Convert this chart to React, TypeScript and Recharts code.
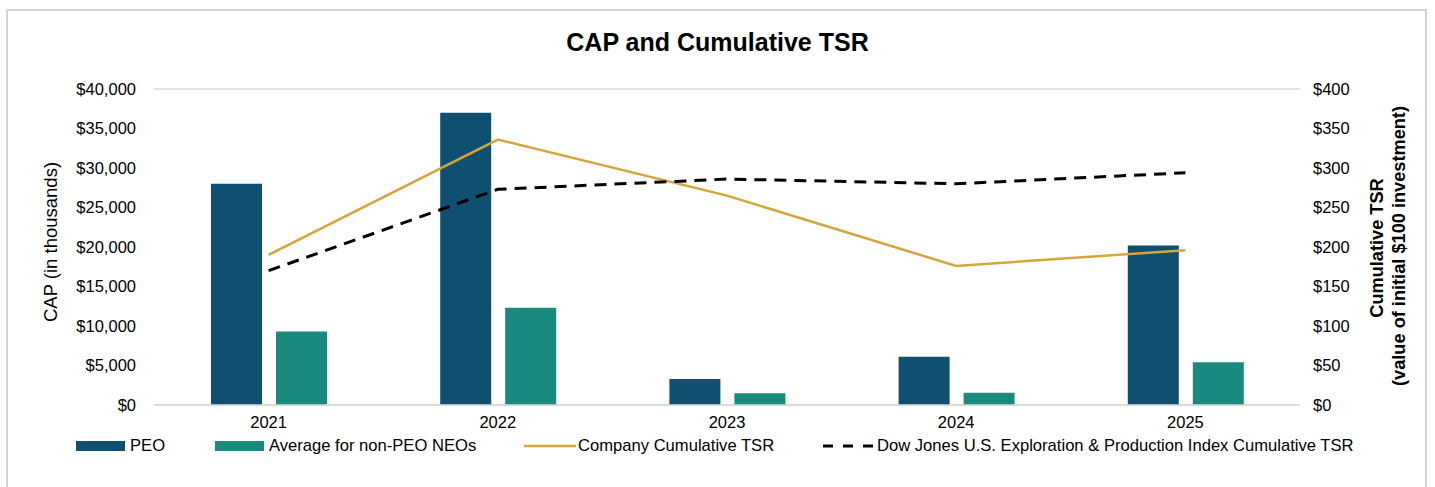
import {
  ComposedChart, Bar, Line, XAxis, YAxis, CartesianGrid
} from "recharts";

const years = ["2021", "2022", "2023", "2024", "2025"];
const peoCap = [28000, 37000, 3300, 6100, 20200];
const neoCap = [9300, 12300, 1500, 1550, 5400];
const companyTsr = [190, 336, 265, 176, 196];
const dowJonesTsr = [170, 273, 286, 280, 294];

const capTicks = [0, 5000, 10000, 15000, 20000, 25000, 30000, 35000, 40000];
const tsrTicks = [0, 50, 100, 150, 200, 250, 300, 350, 400];

const data = years.map((y, i) => ({
  year: y,
  peo: peoCap[i],
  neo: neoCap[i],
  company: companyTsr[i],
  dow: dowJonesTsr[i],
}));

const FONT = '"Liberation Sans", Arial, sans-serif';
const PEO = "#0f4f70";
const NEO = "#1a8a7e";
const GOLD = "#d5a43a";
const TICK = 16.5;

const money = (v: number) => "$" + v.toLocaleString("en-US");

export default function App() {
  return (
    <div style={{ position: "absolute", left: 0, top: 0, width: 1435, height: 487, background: "#fff", fontFamily: FONT, overflow: "hidden" }}>
      <div style={{ position: "absolute", left: 6, top: 9, width: 1421, height: 500, border: "2px solid #d4d4d4", boxSizing: "border-box" }} />
      <div style={{ position: "absolute", left: 0, top: 28, width: 1435, textAlign: "center", fontSize: 25, fontWeight: "bold", color: "#000" }}>
        CAP and Cumulative TSR
      </div>
      <div style={{ position: "absolute", left: 0, top: 0 }}>
        <ComposedChart
          width={1435}
          height={487}
          data={data}
          margin={{ top: 89, right: 0, bottom: 52, left: 0 }}
          barSize={51}
          barGap={14}
        >
          <CartesianGrid vertical={false} stroke="#d9d9d9" strokeWidth={1.5} />
          <XAxis
            dataKey="year"
            height={30}
            tickLine={false}
            tickSize={0}
            tickMargin={11}
            axisLine={{ stroke: "#d9d9d9", strokeWidth: 1.5 }}
            tick={{ fill: "#000", fontSize: TICK, fontFamily: FONT }}
          />
          <YAxis
            yAxisId="cap"
            width={154}
            domain={[0, 40000]}
            ticks={capTicks}
            tickFormatter={money}
            tickLine={false}
            tickSize={0}
            tickMargin={18}
            axisLine={false}
            tick={{ fill: "#000", fontSize: TICK, fontFamily: FONT }}
          />
          <YAxis
            yAxisId="tsr"
            orientation="right"
            width={135}
            domain={[0, 400]}
            ticks={tsrTicks}
            tickFormatter={money}
            tickLine={false}
            tickSize={0}
            tickMargin={13}
            axisLine={false}
            tick={{ fill: "#000", fontSize: TICK, fontFamily: FONT, textAnchor: "start" }}
          />
          <Bar yAxisId="cap" dataKey="peo" name="PEO" fill={PEO} isAnimationActive={false} />
          <Bar yAxisId="cap" dataKey="neo" name="Average for non-PEO NEOs" fill={NEO} isAnimationActive={false} />
          <Line yAxisId="tsr" dataKey="company" name="Company Cumulative TSR" stroke={GOLD} strokeWidth={2.5} dot={false} type="linear" isAnimationActive={false} />
          <Line yAxisId="tsr" dataKey="dow" name="Dow Jones U.S. Exploration & Production Index Cumulative TSR" stroke="#000" strokeWidth={3} strokeDasharray="12 8" dot={false} type="linear" isAnimationActive={false} />
        </ComposedChart>
      </div>
      <svg style={{ position: "absolute", left: 0, top: 0, overflow: "visible" }} width={1435} height={487}>
        <g transform="translate(57,242) rotate(-90)">
          <text textAnchor="middle" fontSize={18.5} fontFamily={FONT} fill="#000">CAP (in thousands)</text>
        </g>
        <g transform="translate(1383,248) rotate(-90)">
          <text textAnchor="middle" fontSize={18.2} fontWeight="bold" fontFamily={FONT} fill="#000">Cumulative TSR</text>
        </g>
        <g transform="translate(1405,246) rotate(-90)">
          <text textAnchor="middle" fontSize={18.2} fontWeight="bold" fontFamily={FONT} fill="#000">(value of initial $100 investment)</text>
        </g>
      </svg>
      <div style={{ position: "absolute", left: 0, top: 436, fontSize: 16.6, color: "#000" }}>
        <LegendItem x={76} label="PEO" kind="bar" color={PEO} />
        <LegendItem x={215} label="Average for non-PEO NEOs" kind="bar" color={NEO} />
        <LegendItem x={524} label="Company Cumulative TSR" kind="line" color={GOLD} />
        <LegendItem x={823} label="Dow Jones U.S. Exploration & Production Index Cumulative TSR" kind="dash" color="#000" />
      </div>
    </div>
  );
}

function LegendItem({ x, label, kind, color }: { x: number; label: string; kind: string; color: string }) {
  return (
    <div style={{ position: "absolute", left: x, top: 0, display: "flex", alignItems: "center", whiteSpace: "nowrap", height: 20 }}>
      <svg width={52} height={20} style={{ marginRight: 2 }}>
        {kind === "bar" && <rect x={0} y={5} width={49} height={10} fill={color} />}
        {kind === "line" && <line x1={0} y1={10} x2={52} y2={10} stroke={color} strokeWidth={2.5} />}
        {kind === "dash" && <line x1={0} y1={10} x2={52} y2={10} stroke={color} strokeWidth={3} strokeDasharray="10 10" />}
      </svg>
      <span>{label}</span>
    </div>
  );
}
